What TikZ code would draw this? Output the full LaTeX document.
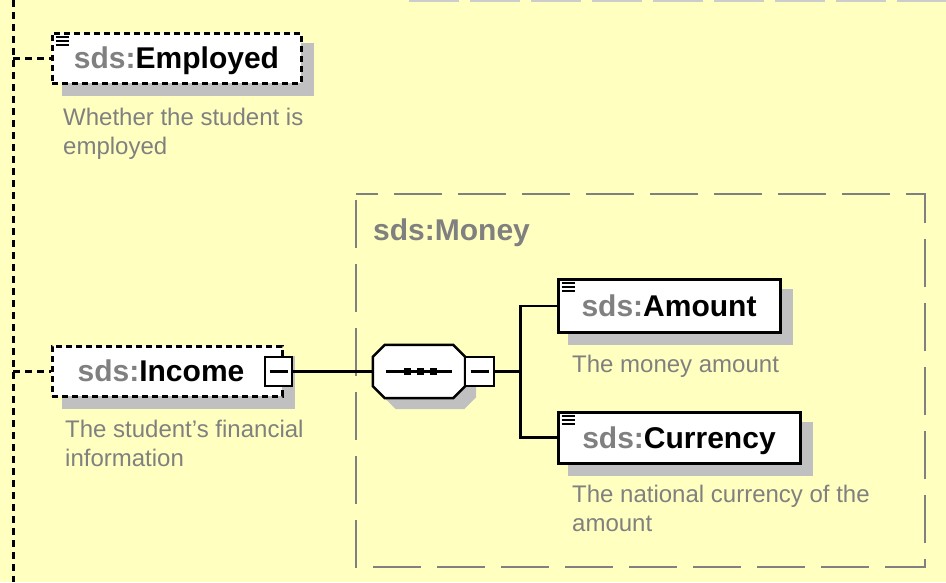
\documentclass[tikz,border=0pt]{standalone}
\usepackage{fontspec}
\setmainfont{Liberation Sans}
\usetikzlibrary{positioning}

\definecolor{xsdback}{RGB}{255,255,192}
\definecolor{xsdgray}{RGB}{128,128,128}
\definecolor{xsdshadow}{RGB}{192,192,192}

\pgfdeclarelayer{back}
\pgfdeclarelayer{shade}
\pgfsetlayers{back,shade,main}

\tikzset{
  elembox/.style={draw=black, fill=white, line width=3pt, inner sep=0pt, text height=21.5pt, text depth=0pt, font=\fontsize{30}{36}\selectfont\bfseries},
  optbox/.style={elembox, dash pattern=on 6pt off 4pt},
  minusbox/.style={draw=black, fill=white, line width=2.5pt, minimum width=27pt, minimum height=29pt, inner sep=0pt},
  seqbox/.style={minimum width=92pt, minimum height=53pt, inner sep=0pt},
  descnode/.style={anchor=north west, inner sep=0pt, align=left, text=xsdgray, font=\fontsize{24}{29.5}\selectfont},
  wire/.style={black, line width=2.5pt},
  optline/.style={black, line width=3pt, dash pattern=on 7pt off 5pt},
  groupline/.style={xsdgray, line width=2.5pt, dash pattern=on 48pt off 16pt},
}
\newcommand{\pfx}{\textcolor{xsdgray}{sds:}}
\newcommand{\docicon}[1]{\foreach \dy in {5,9,13} \draw[line width=2pt] ([shift={(5,\dy)}]#1.north west) -- ++(13,0);}
\newcommand{\shadeof}[1]{\begin{pgfonlayer}{shade}\fill[xsdshadow] ([shift={(11,11)}]#1.south west) rectangle ([shift={(11,11)}]#1.north east);\end{pgfonlayer}}
% octagon round a node, #2 #3 = offset
\newcommand{\octpath}[3]{([shift={({#2+12},{#3})}]#1.north west) -- ([shift={({#2-12},{#3})}]#1.north east) -- ([shift={({#2},{#3+12})}]#1.north east) -- ([shift={({#2},{#3-12})}]#1.south east) -- ([shift={({#2-12},{#3})}]#1.south east) -- ([shift={({#2+12},{#3})}]#1.south west) -- ([shift={({#2},{#3-12})}]#1.south west) -- ([shift={({#2},{#3+12})}]#1.north west) -- cycle}

\begin{document}
\begin{tikzpicture}[x=1pt,y=1pt,yscale=-1]
\useasboundingbox (0,0) rectangle (946,582);
\begin{pgfonlayer}{back}
\fill[xsdback] (0,0) rectangle (946,582);
\end{pgfonlayer}

%Group box
\draw[xsdgray!40, line width=1.5pt, dash pattern=on 50pt off 11pt] (409,0.75) -- (946,0.75);
\draw[groupline, dash phase=58pt] (356,194) rectangle (925,567);
\node[anchor=west, inner sep=0pt, text=xsdgray, text height=21.5pt, text depth=0pt, font=\fontsize{30}{36}\selectfont\bfseries] (moneylbl) at (373,230) {sds:Money};

%Elements
\node[optbox, minimum width=249pt, minimum height=50pt] (emp) at (176.5,58) {\pfx Employed};
\shadeof{emp}
\docicon{emp}
\node[optbox, minimum width=230pt, minimum height=50pt] (inc) at (167,371) {\pfx Income\hspace*{12pt}};
\shadeof{inc}
\node[minusbox] (incminus) at (278.5,371.5) {};
\draw[wire] ([xshift=-9pt]incminus.center) -- ([xshift=9pt]incminus.center);

%Sequence
\node[seqbox] (seq) at (419,371.5) {};
\begin{pgfonlayer}{shade}
\fill[xsdshadow] \octpath{seq}{11}{11};
\end{pgfonlayer}
\filldraw[wire, fill=white] \octpath{seq}{0}{0};
\draw[wire] ([xshift=-33pt]seq.center) -- ([xshift=33pt]seq.center);
\foreach \dx in {-12,1,14} \fill ([xshift=\dx pt]seq.center) +(-3.5,-3.5) rectangle +(3.5,3.5);
\node[minusbox, minimum width=29pt] (seqminus) at (479.5,371.5) {};
\draw[wire] ([xshift=-9pt]seqminus.center) -- ([xshift=9pt]seqminus.center);

\node[elembox, minimum width=222pt, minimum height=53pt] (amt) at (669,306) {\pfx Amount};
\shadeof{amt}
\docicon{amt}
\node[elembox, minimum width=242pt, minimum height=51pt] (cur) at (679,437.5) {\pfx Currency};
\shadeof{cur}
\docicon{cur}

% Text Node
\node[descnode] (empdesc) at (63,107.5) {Whether the student is\\employed};
% Text Node
\node[descnode] (incdesc) at (65,419.5) {The student's financial\\information};
% Text Node
\node[descnode] (amtdesc) at (572,354.5) {The money amount};
% Text Node
\node[descnode] (curdesc) at (572,484.5) {The national currency of the\\amount};

%Connectors
\coordinate (vtop) at (13,0);
\coordinate (vbot) at (13,582);
\draw[optline] (vtop) -- (vbot);
\draw[optline] (vtop |- emp.west) -- (emp.west);
\draw[optline] (vtop |- inc.west) -- (inc.west);
\draw[wire] (incminus.east) -- (seq.west);
\coordinate[right=25pt of seqminus.east] (fork);
\draw[wire] (seqminus.east) -- (fork);
\draw[wire] (fork) |- (amt.west);
\draw[wire] (fork) |- (cur.west);

\end{tikzpicture}
\end{document}
